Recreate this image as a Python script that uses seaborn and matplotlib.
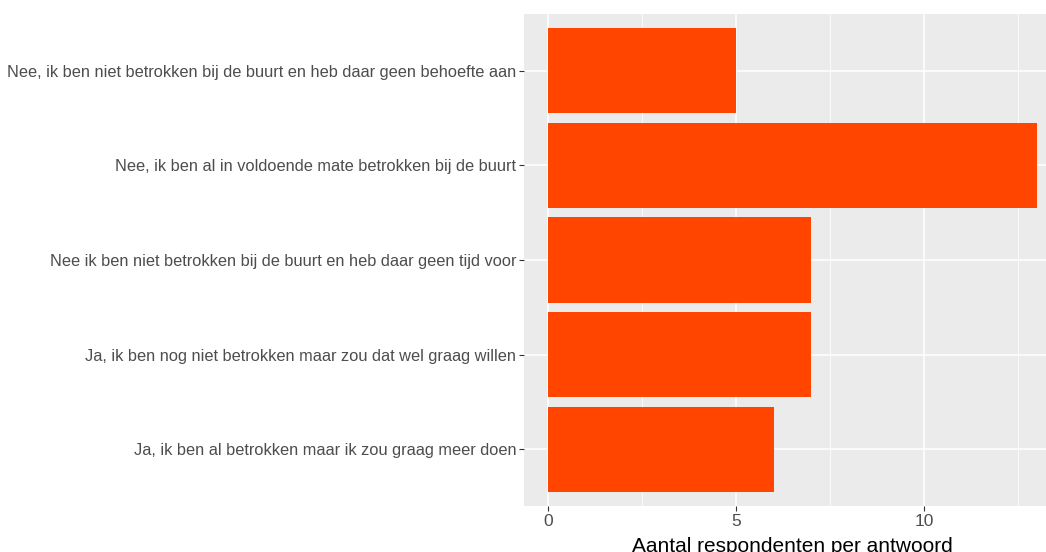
import pandas as pd
import matplotlib.pyplot as plt
import seaborn as sns

answers = [
    "Nee, ik ben niet betrokken bij de buurt en heb daar geen behoefte aan",
    "Nee, ik ben al in voldoende mate betrokken bij de buurt",
    "Nee ik ben niet betrokken bij de buurt en heb daar geen tijd voor",
    "Ja, ik ben nog niet betrokken maar zou dat wel graag willen",
    "Ja, ik ben al betrokken maar ik zou graag meer doen",
]
counts = [5, 13, 7, 7, 6]
x_ticks = [0, 5, 10]

df = pd.DataFrame({"antwoord": answers, "aantal": counts})

sns.set_theme(style="darkgrid")
plt.rcParams["font.family"] = ["Liberation Sans", "DejaVu Sans"]

fig = plt.figure(figsize=(10.46, 5.52), dpi=100)
# panel runs past the right edge, like the cropped original
ax = fig.add_axes([524 / 1046, 1 - 506 / 552, (1061 - 524) / 1046, (506 - 14) / 552])
ax.set_facecolor("#EBEBEB")

sns.barplot(data=df, x="aantal", y="antwoord", order=answers, color="#FF4500",
            width=0.9, saturation=1, linewidth=0, edgecolor="none", ax=ax, zorder=3)

ax.set_xlim(-0.65, 13.65)
ax.set_ylim(4.6, -0.6)
ax.set_xticks(x_ticks)
ax.set_xticks([2.5, 7.5, 12.5], minor=True)
ax.grid(True, which="major", color="white", linewidth=1.1, zorder=0)
ax.grid(True, which="minor", axis="x", color="white", linewidth=0.55, zorder=0)
ax.set_axisbelow(True)
for s in ax.spines.values():
    s.set_visible(False)

ax.tick_params(axis="both", which="major", length=3.5, width=0.8, color="#333333",
               labelcolor="#4D4D4D", labelsize=11.8, pad=2, bottom=True, left=True)
ax.tick_params(axis="both", which="minor", length=0)
ax.tick_params(axis="x", labelsize=12.5)

ax.set_ylabel("")
ax.set_xlabel("Aantal respondenten per antwoord", fontsize=15, color="black", labelpad=6)

fig.savefig("out.png", dpi=100)
plt.close()
